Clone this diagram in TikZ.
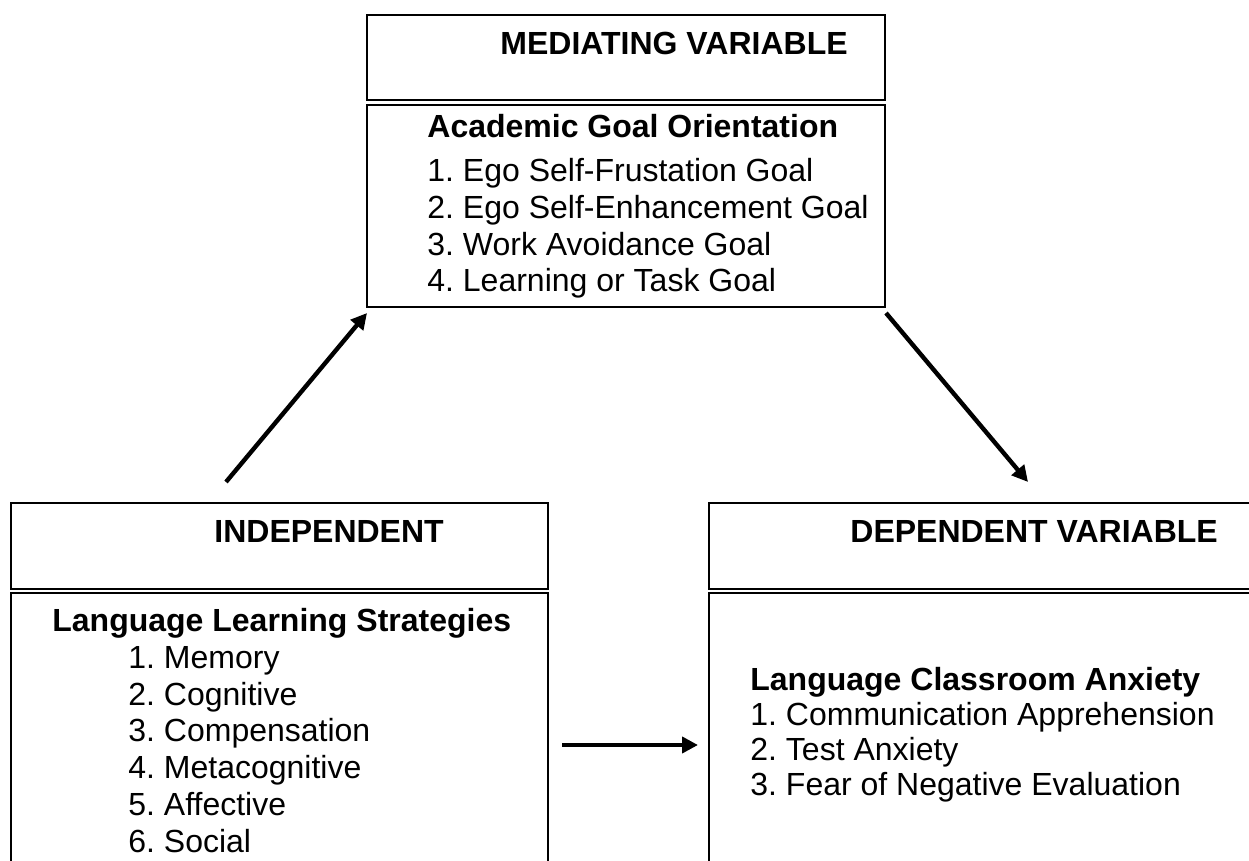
\documentclass[tikz,border=0pt]{standalone}
\usepackage{fontspec}
\setmainfont{Liberation Sans}
\frenchspacing
\usetikzlibrary{positioning, arrows.meta}
\tikzstyle{headbox} = [rectangle, draw=black, line width=0.75pt, inner sep=0pt, outer sep=0pt]
\tikzstyle{bodybox} = [rectangle, draw=black, line width=0.75pt, inner sep=0pt, outer sep=0pt]
\tikzstyle{title} = [anchor=base west, inner sep=0pt, font=\fontsize{16}{18.35}\selectfont\bfseries]
\tikzstyle{list} = [anchor=base west, inner sep=0pt, align=left, font=\fontsize{16}{18.35}\selectfont]
\tikzstyle{arrow} = [line width=2.2pt, -{Triangle[length=8pt,width=8pt]}]

\begin{document}
\begin{tikzpicture}[x=0.5pt, y=-0.5pt]
    \useasboundingbox (0,0) rectangle (1249,861);

    % Place boxes
    \node (mhead) [headbox, minimum width=259pt, minimum height=42.5pt] at (626,57.5) {};
    \node (mbody) [bodybox, minimum width=259pt, minimum height=101pt, below=2.5pt of mhead] {};
    \node (lhead) [headbox, minimum width=268.5pt, minimum height=43pt] at (279.5,546) {};
    \node (lbody) [bodybox, minimum width=268.5pt, minimum height=152pt, below=2pt of lhead] {};
    \node (rhead) [headbox, minimum width=280pt, minimum height=43pt] at (989,546) {};
    \node (rbody) [bodybox, minimum width=280pt, minimum height=152pt, below=2pt of rhead] {};

    % Place texts (lists sit on their last line)
    \node (mtitle) [title] at (500,55) {MEDIATING VARIABLE};
    \node (mlist) [list] at (427,292) {\textbf{Academic Goal Orientation}\\[4pt]
        1. Ego Self-Frustation Goal\\
        2. Ego Self-Enhancement Goal\\
        3. Work Avoidance Goal\\
        4. Learning or Task Goal};
    \node (ltitle) [title] at (214,542) {INDEPENDENT};
    \node (llist) [list] at (52,852) {\textbf{Language Learning Strategies}\\
        \hspace*{38pt}1. Memory\\
        \hspace*{38pt}2. Cognitive\\
        \hspace*{38pt}3. Compensation\\
        \hspace*{38pt}4. Metacognitive\\
        \hspace*{38pt}5. Affective\\
        \hspace*{38pt}6. Social};
    \node (rtitle) [title] at (850,542) {DEPENDENT VARIABLE};
    \node (rlist) [list] at (750,795) {\textbf{Language Classroom Anxiety}\\[-1pt]
        1. Communication Apprehension\\[-1pt]
        2. Test Anxiety\\[-1pt]
        3. Fear of Negative Evaluation};

    % Connect boxes with arrows
    \coordinate (lstart) at (226,482);
    \coordinate (rend) at (1028,482);
    \draw [arrow] (lstart) -- ([yshift=-3pt]mbody.south west);
    \draw [arrow] ([xshift=0.5pt, yshift=-3pt]mbody.south east) -- (rend);
    \draw [arrow] ([xshift=7pt]lbody.east) -- ([xshift=-5.5pt]rbody.west);
\end{tikzpicture}
\end{document}
